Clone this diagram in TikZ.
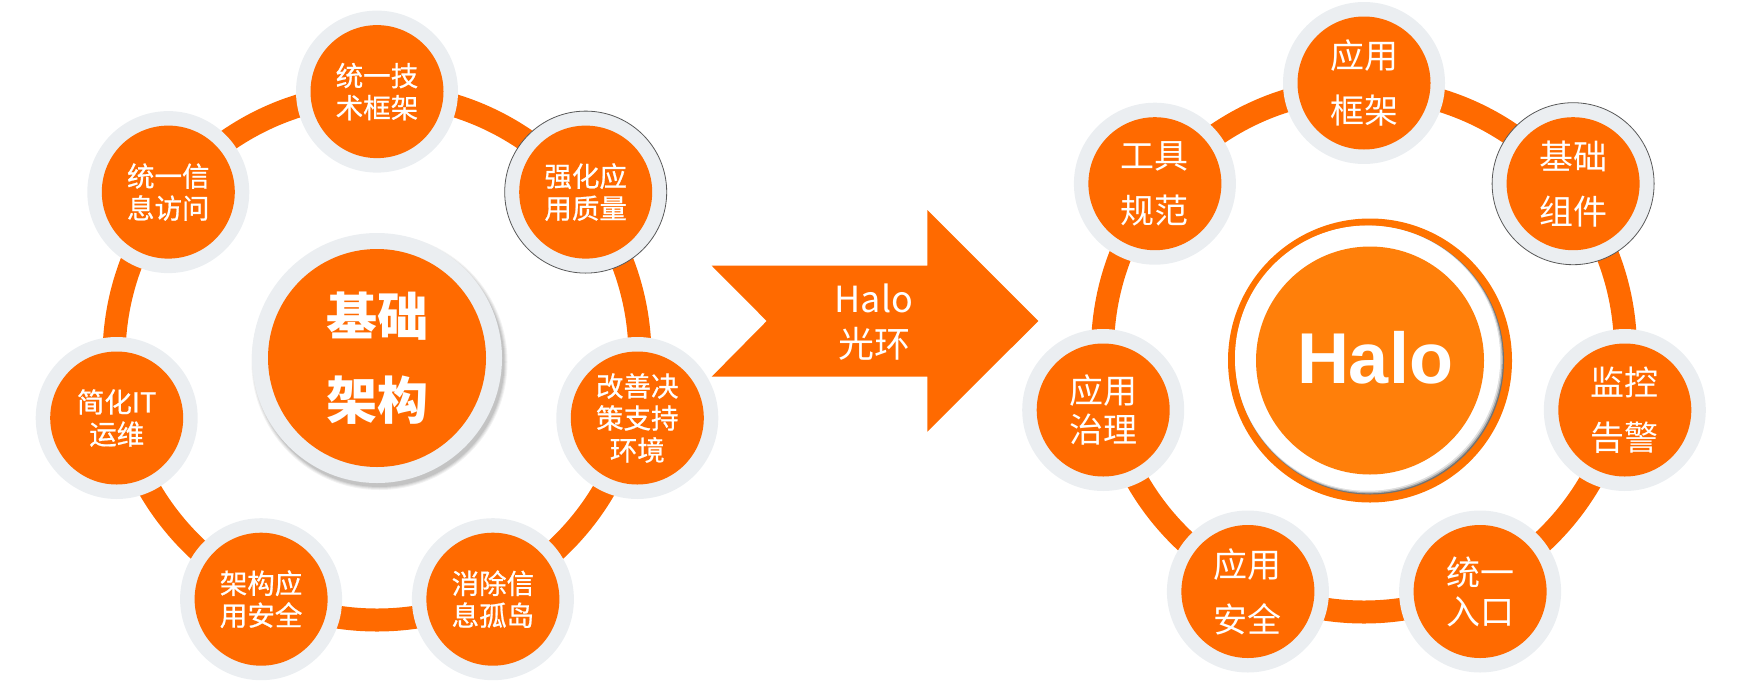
\documentclass[tikz,border=0pt]{standalone}
\usepackage{fontspec}
\newfontfamily\cjk{Noto Sans CJK SC}
\newfontfamily\cjkm[FakeBold=0.7]{Noto Sans CJK SC}
\newfontfamily\lsans{Liberation Sans}
\definecolor{org}{HTML}{FF6A00}
\definecolor{padgray}{HTML}{EBEEF1}
\definecolor{haloin}{HTML}{FF7F0A}
\definecolor{haloout}{HTML}{FF7300}
\begin{document}
\begin{tikzpicture}[x=1pt,y=-1pt,
  pad/.style={circle, fill=padgray, minimum size=162, inner sep=0},
  core/.style={circle, fill=org, minimum size=133, inner sep=0, text=white, align=center},
  ltxt/.style={font=\cjkm\fontsize{27.5}{32}\selectfont},
  rtxt/.style={font=\cjk\fontsize{34}{55}\selectfont},
  rtxtt/.style={font=\cjk\fontsize{34}{39}\selectfont},
  ringline/.style={draw=org, line width=23},
  rim/.style={draw=black!65, line width=0.8}
]
\useasboundingbox (0,0) rectangle (1739,683);

% ---------------- left diagram ----------------
\coordinate (LO) at (377,357);
\draw[ringline] (LO) circle (263);

\node[pad] (L0) at (377,91.6) {};
\node[pad] (L1) at (168.3,192.1) {};
\node[pad] (L2) at (116.7,418.0) {};
\node[pad] (L3) at (261.1,599.2) {};
\node[pad] (L4) at (492.9,599.2) {};
\node[pad] (L5) at (637.3,418.0) {};
\node[pad, rim] (L6) at (585.7,192.1) {};

\node[core, ltxt] (L0t) at (L0) {统一技\\术框架};
\node[core, ltxt] (L1t) at (L1) {统一信\\息访问};
\node[core, ltxt] (L2t) at (L2) {简化IT\\运维};
\node[core, ltxt] (L3t) at (L3) {架构应\\用安全};
\node[core, ltxt] (L4t) at (L4) {消除信\\息孤岛};
\node[core, ltxt] (L5t) at (L5) {改善决\\策支持\\环境};
\node[core, ltxt] (L6t) at (L6) {强化应\\用质量};

% centre with drop shadow
\foreach \r/\o in {128/0.05,127/0.06,126/0.07,125/0.08}
  \fill[black, opacity=\o] (379.5,362) circle (\r);
\node[circle, fill=padgray, minimum size=250, inner sep=0] (LC) at (377,358) {};
\node[circle, fill=org, minimum size=218, inner sep=0, text=white, align=center,
      font=\cjk\bfseries\fontsize{51}{84}\selectfont] (LCt) at (LC) {基础\\架构};

% ---------------- arrow ----------------
\fill[org] (711.7,265.7) -- (927.3,265.7) -- (927.3,210) -- (1038.3,321)
  -- (927.3,431.7) -- (927.3,376.7) -- (711.7,376.7) -- (766.7,321) -- cycle;
\node[text=white, align=center, font=\cjk\fontsize{36}{45}\selectfont] (arrowtxt) at (874,322) {Halo\\光环};

% ---------------- right diagram ----------------
\coordinate (RO) at (1364,350.5);
\draw[ringline] (RO) circle (261.5);

\node[pad] (R0) at (1364,83) {};
\node[pad] (R1) at (1154.9,183.7) {};
\node[pad] (R2) at (1103.2,410.0) {};
\node[pad] (R3) at (1247.9,591.5) {};
\node[pad] (R4) at (1480.1,591.5) {};
\node[pad] (R5) at (1624.8,410.0) {};
\node[pad, rim] (R6) at (1573.1,183.7) {};

\node[core, rtxt] (R0t) at (R0) {应用\\框架};
\node[core, rtxt] (R1t) at (R1) {工具\\规范};
\node[core, rtxtt] (R2t) at (R2) {应用\\治理};
\node[core, rtxt] (R3t) at (R3) {应用\\安全};
\node[core, rtxtt] (R4t) at (R4) {统一\\入口};
\node[core, rtxt] (R5t) at (R5) {监控\\告警};
\node[core, rtxt] (R6t) at (R6) {基础\\组件};

% Halo centre
\node[circle, fill=haloout, minimum size=284, inner sep=0] (RCo) at (1370,360.5) {};
\fill[black!55] (RCo.center) circle (134);
\fill[black!30] ([shift={(-0.8,-0.8)}]RCo.center) circle (133.6);
\fill[black!12] ([shift={(-1.6,-1.6)}]RCo.center) circle (133.2);
\fill[white] ([shift={(-2.4,-2.4)}]RCo.center) circle (132.6);
\node[circle, fill=haloin, minimum size=228, inner sep=0] (RCi) at (RCo) {};
\node[text=white, inner sep=0, font=\lsans\bfseries\fontsize{72}{72}\selectfont] (RCt) at (1375,357.5) {Halo};
\end{tikzpicture}
\end{document}
